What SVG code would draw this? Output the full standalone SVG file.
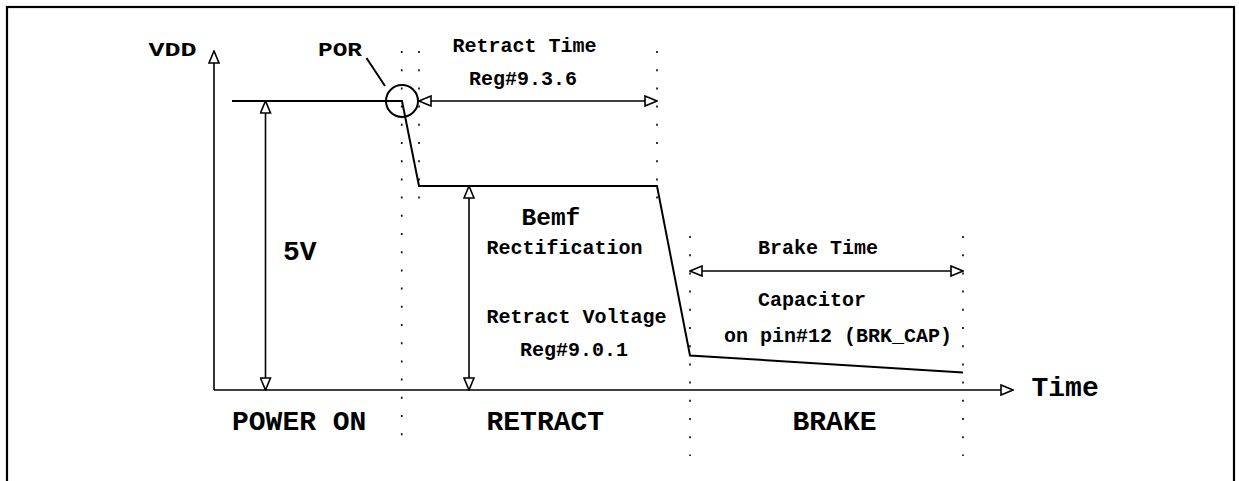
<svg xmlns="http://www.w3.org/2000/svg" width="1239" height="481" viewBox="0 0 1239 481">
<defs>
<style>
.t{font-family:"Liberation Mono","Courier New",monospace;font-weight:bold;fill:#000}
.s{font-size:20px}
.b{font-size:28px}
.ln{stroke:#000;stroke-width:2;fill:none}
.ar{stroke:#000;stroke-width:1.6;fill:none}
.dot{stroke:#000;stroke-width:1.6;stroke-dasharray:2 16.2;fill:none}
</style>
<marker id="ah" markerWidth="14" markerHeight="12" refX="12" refY="5" orient="auto-start-reverse" markerUnits="userSpaceOnUse" viewBox="-1 -1 14 12">
<path d="M0,0 L12,5 L0,10 Z" fill="#fff" stroke="#000" stroke-width="1.6"/>
</marker>
</defs>
<rect x="7" y="7" width="1227" height="500" fill="#fff" stroke="#000" stroke-width="2.2"/>
<g id="guides">
<line class="dot" x1="401.7" y1="51" x2="401.7" y2="448"/>
<line class="dot" x1="419" y1="51" x2="419" y2="214"/>
<line class="dot" x1="657" y1="51" x2="657" y2="214"/>
<line class="dot" x1="690" y1="236" x2="690" y2="456"/>
<line class="dot" x1="963" y1="236" x2="963" y2="456"/>
</g>
<g id="axes">
<line class="ar" x1="214" y1="390" x2="214" y2="51" marker-end="url(#ah)"/>
<line class="ar" x1="214" y1="390" x2="1013" y2="390" marker-end="url(#ah)"/>
</g>
<g id="signal">
<polyline class="ln" points="232,101 402,101 419,186 657,186 690,355.5 963,372.5"/>
</g>
<g id="por">
<circle cx="402" cy="101" r="16" fill="none" stroke="#000" stroke-width="2"/>
<line class="ln" x1="366.5" y1="58" x2="385" y2="86"/>
<text class="t s" x="318" y="56" textLength="44" lengthAdjust="spacingAndGlyphs">POR</text>
</g>
<g id="connectors">
<line class="ar" x1="265.5" y1="101" x2="265.5" y2="390" marker-start="url(#ah)" marker-end="url(#ah)"/>
<line class="ar" x1="469" y1="186" x2="469" y2="390" marker-start="url(#ah)" marker-end="url(#ah)"/>
<line class="ar" x1="419" y1="101" x2="657" y2="101" marker-start="url(#ah)" marker-end="url(#ah)"/>
<line class="ar" x1="690" y1="271" x2="963" y2="271" marker-start="url(#ah)" marker-end="url(#ah)"/>
</g>
<g id="labels">
<text class="t s" x="148.5" y="56" textLength="48" lengthAdjust="spacingAndGlyphs">VDD</text>
<text class="t b" x="283" y="259.5">5V</text>
<text class="t b" x="232" y="429.5">POWER ON</text>
<text class="t s" x="452.5" y="52">Retract Time</text>
<text class="t s" x="469" y="85">Reg#9.3.6</text>
<text class="t" style="font-size:24.5px" x="521.5" y="225">Bemf</text>
<text class="t s" x="486.5" y="254">Rectification</text>
<text class="t s" x="486.5" y="322.5">Retract Voltage</text>
<text class="t s" x="520" y="356">Reg#9.0.1</text>
<text class="t b" x="486.5" y="429.5">RETRACT</text>
<text class="t s" x="758" y="254">Brake Time</text>
<text class="t s" x="758" y="306">Capacitor</text>
<text class="t s" x="724" y="341.5">on pin#12 (BRK_CAP)</text>
<text class="t b" x="792.5" y="429.5">BRAKE</text>
<text class="t b" x="1031.5" y="395.5">Time</text>
</g>
</svg>
